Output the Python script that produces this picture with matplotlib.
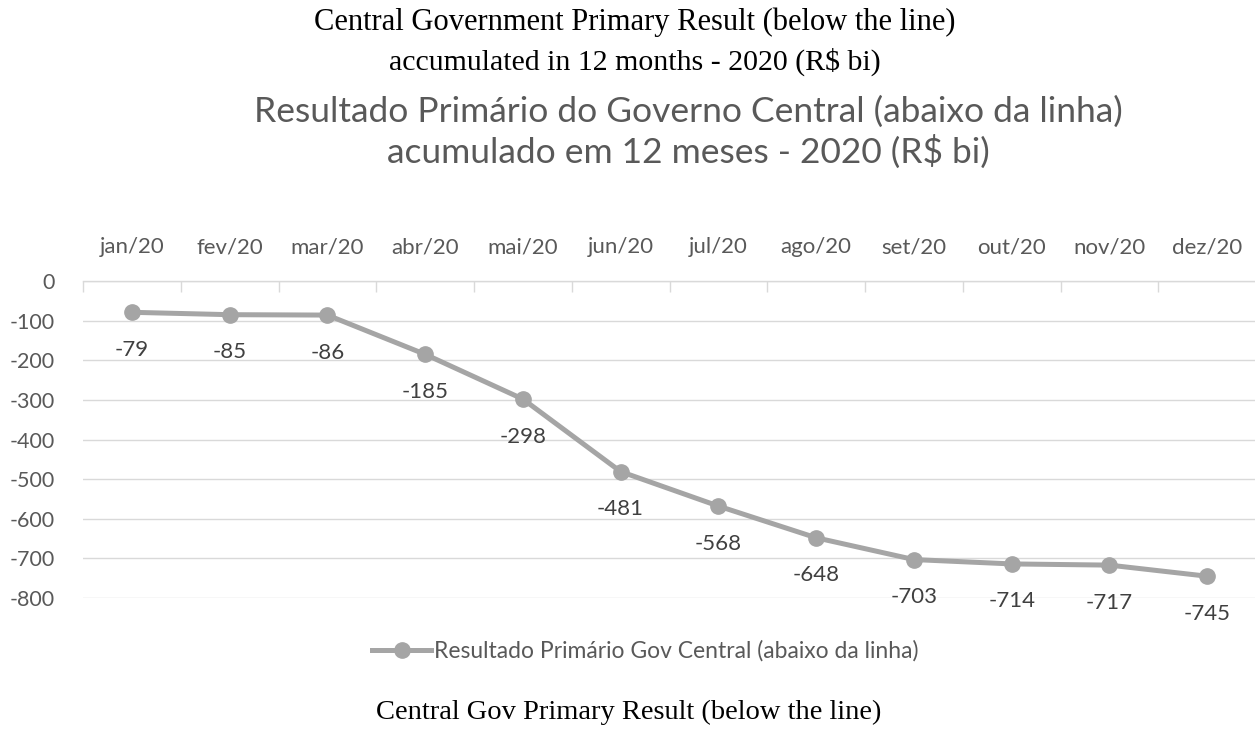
import matplotlib
matplotlib.use("Agg")
import matplotlib.pyplot as plt
import numpy as np

months = ["jan/20", "fev/20", "mar/20", "abr/20", "mai/20", "jun/20",
          "jul/20", "ago/20", "set/20", "out/20", "nov/20", "dez/20"]
values = [-79, -85, -86, -185, -298, -481, -568, -648, -703, -714, -717, -745]
yticks = [0, -100, -200, -300, -400, -500, -600, -700, -800]

W, H = 1255, 733
fig = plt.figure(figsize=(W / 100, H / 100), dpi=100)
fig.patch.set_facecolor("white")

sans = ["Lato", "DejaVu Sans"]
serif = ["Liberation Serif", "DejaVu Serif"]
gray_txt = "#595959"
line_col = "#A5A5A5"
grid_col = "#D9D9D9"

# document captions
fig.text(635 / W, 1 - 22 / H, "Central Government Primary Result (below the line)",
         ha="center", va="center", family=serif, fontsize=22, color="black")
fig.text(635 / W, 1 - 62 / H, "accumulated in 12 months - 2020 (R$ bi)",
         ha="center", va="center", family=serif, fontsize=21.5, color="black")
fig.text(629 / W, 1 - 712 / H, "Central Gov Primary Result (below the line)",
         ha="center", va="center", family=serif, fontsize=20.5, color="black")

# chart title
fig.text(688 / W, 1 - 112 / H, "Resultado Primário do Governo Central (abaixo da linha)",
         ha="center", va="center", family=sans, fontsize=25.5, color=gray_txt)
fig.text(688 / W, 1 - 152 / H, "acumulado em 12 meses - 2020 (R$ bi)",
         ha="center", va="center", family=sans, fontsize=25.5, color=gray_txt)

left, right = 83 / W, 1256 / W
top, bottom = 1 - 281 / H, 1 - 598 / H
ax = fig.add_axes([left, bottom, right - left, top - bottom])

x = np.arange(len(months))
ax.plot(x, values, color=line_col, lw=3.6, marker="o", markersize=11,
        markerfacecolor=line_col, markeredgecolor=line_col, zorder=3,
        label="Resultado Primário Gov Central (abaixo da linha)")

for xi, v in zip(x, values):
    ax.annotate(f"{v}", (xi, v), xytext=(0, -27), textcoords="offset points",
                ha="center", va="center", family=sans, fontsize=16, color="#404040")

ax.set_xlim(-0.5, len(months) - 0.5)
ax.set_ylim(-800, 0)
ax.set_yticks(yticks)
ax.set_yticklabels([str(t) for t in yticks])
ax.yaxis.grid(True, color=grid_col, lw=1)
ax.set_axisbelow(True)

ax.xaxis.tick_top()
ax.set_xticks(x)
ax.set_xticklabels(months)
ax.set_xticks(np.arange(-0.5, len(months), 1.0), minor=True)
ax.tick_params(axis="x", which="major", length=0, pad=17, labelsize=16,
               labelcolor=gray_txt)
ax.tick_params(axis="x", which="minor", length=8, direction="in", color=grid_col,
               width=1)
ax.tick_params(axis="y", length=0, pad=20, labelsize=15.5, labelcolor=gray_txt)
for lbl in ax.get_xticklabels() + ax.get_yticklabels():
    lbl.set_family(sans)

for s in ["left", "right", "bottom"]:
    ax.spines[s].set_visible(False)
ax.spines["top"].set_color(grid_col)
ax.spines["top"].set_linewidth(1)

leg = fig.legend(loc="center", bbox_to_anchor=(645 / W, 1 - 651 / H), frameon=False,
                 prop={"family": sans, "size": 16.5}, handlelength=2.6, handletextpad=0.1)
for t in leg.get_texts():
    t.set_color(gray_txt)

fig.savefig("out.png", dpi=100, facecolor="white")
